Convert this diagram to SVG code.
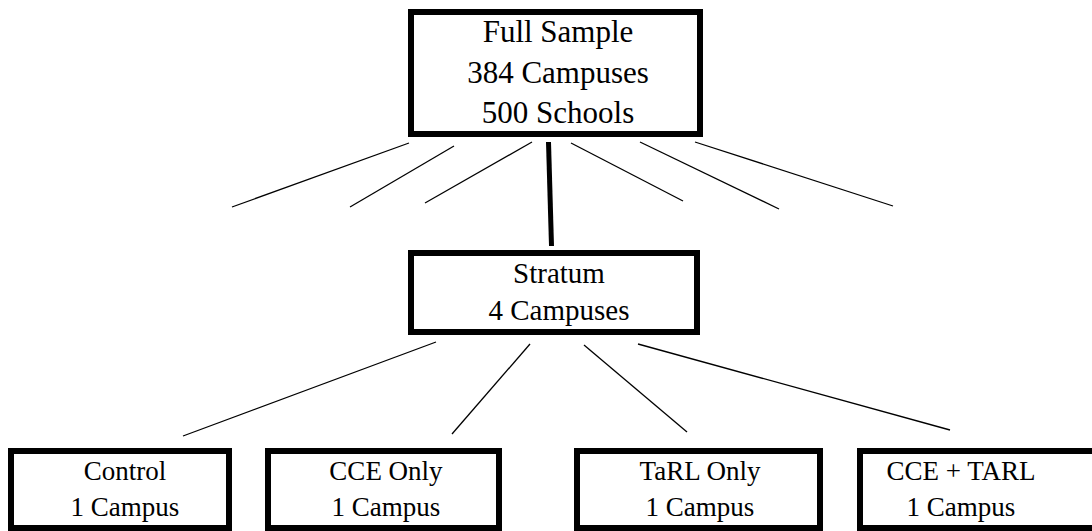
<svg xmlns="http://www.w3.org/2000/svg" width="1092" height="531" viewBox="0 0 1092 531">
<style>
svg text, text.t, g text.t {font-family:'Liberation Serif','Times New Roman',serif !important;fill:#000;text-anchor:middle}
.box{fill:#fff;stroke:#000;stroke-width:6}
.c{stroke:#000;stroke-width:1.3;fill:none}
.ct{stroke:#000;stroke-width:5;fill:none}
</style>
<rect width="1092" height="531" fill="#fff"/>
<g id="connectors">
<line class="c" x1="409" y1="143" x2="232" y2="207"/>
<line class="c" x1="454" y1="146" x2="350" y2="207"/>
<line class="c" x1="532" y1="142" x2="425" y2="203"/>
<line class="ct" x1="548.5" y1="142" x2="551.5" y2="246"/>
<line class="c" x1="571" y1="143" x2="683" y2="201"/>
<line class="c" x1="640" y1="142" x2="779" y2="209"/>
<line class="c" x1="695" y1="142" x2="893" y2="206"/>
<line class="c" x1="436" y1="342" x2="183" y2="436"/>
<line class="c" x1="530" y1="344" x2="452" y2="434"/>
<line class="c" x1="584" y1="345" x2="687" y2="432"/>
<line class="c" x1="638" y1="344" x2="950" y2="430"/>
</g>
<g id="full-sample">
<rect class="box" x="411" y="12" width="289" height="122"/>
<text class="t" x="558" y="42" font-size="31" font-family="Liberation Serif">Full Sample</text>
<text class="t" x="558" y="83" font-size="31" font-family="Liberation Serif">384 Campuses</text>
<text class="t" x="558" y="123" font-size="31" font-family="Liberation Serif">500 Schools</text>
</g>
<g id="stratum">
<rect class="box" x="411" y="253" width="286" height="79"/>
<text class="t" x="559" y="283" font-size="29" font-family="Liberation Serif">Stratum</text>
<text class="t" x="559" y="320" font-size="29" font-family="Liberation Serif">4 Campuses</text>
</g>
<g id="control">
<rect class="box" x="11" y="451" width="218" height="77"/>
<text class="t" x="125" y="480" font-size="27" font-family="Liberation Serif">Control</text>
<text class="t" x="125" y="516" font-size="27" font-family="Liberation Serif">1 Campus</text>
</g>
<g id="cce-only">
<rect class="box" x="268" y="451" width="231" height="77"/>
<text class="t" x="386" y="480" font-size="27" font-family="Liberation Serif">CCE Only</text>
<text class="t" x="386" y="516" font-size="27" font-family="Liberation Serif">1 Campus</text>
</g>
<g id="tarl-only">
<rect class="box" x="577" y="451" width="243" height="77"/>
<text class="t" x="700" y="480" font-size="27" font-family="Liberation Serif">TaRL Only</text>
<text class="t" x="700" y="516" font-size="27" font-family="Liberation Serif">1 Campus</text>
</g>
<g id="cce-tarl">
<rect class="box" x="860" y="451" width="240" height="77"/>
<text class="t" x="961" y="480" font-size="27" font-family="Liberation Serif">CCE + TARL</text>
<text class="t" x="961" y="516" font-size="27" font-family="Liberation Serif">1 Campus</text>
</g>
</svg>
